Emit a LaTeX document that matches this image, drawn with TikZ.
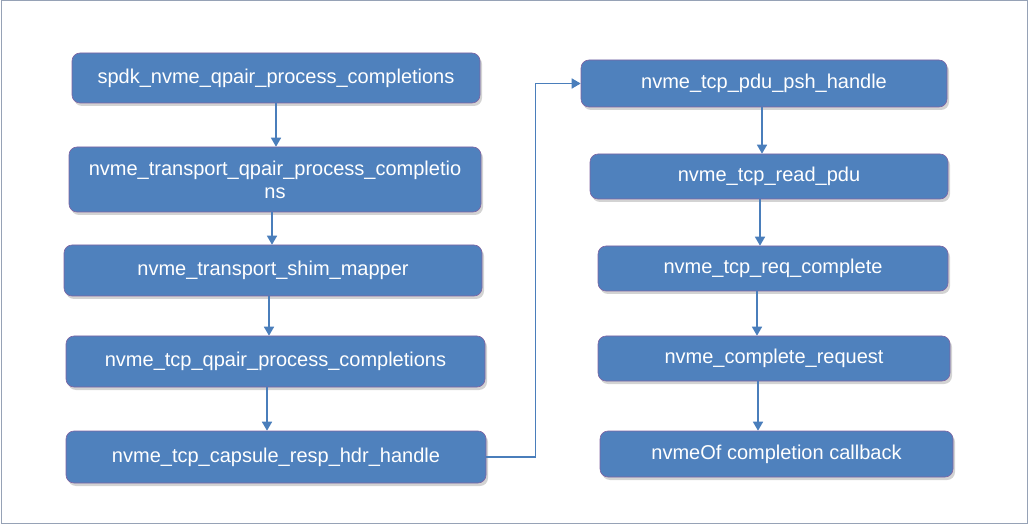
\documentclass[tikz,border=0pt]{standalone}
\usepackage{fontspec}
\setmainfont{Liberation Sans}
\usetikzlibrary{arrows.meta,shadows}
\definecolor{boxfill}{RGB}{79,129,189}
\definecolor{boxline}{RGB}{128,100,162}
\definecolor{arrowcol}{RGB}{74,126,187}
\definecolor{framecol}{RGB}{150,162,182}
\begin{document}
\begin{tikzpicture}[x=1pt,y=-1pt,
  fbox/.style={rectangle, rounded corners=8pt, fill=boxfill, draw=boxline, line width=0.6pt,
    text=white, font=\fontsize{20}{23}\selectfont, align=center, inner sep=0pt,
    drop shadow={shadow xshift=2pt, shadow yshift=-3pt, opacity=0.35}},
  conn/.style={draw=arrowcol, line width=1.6pt, -{Triangle[width=10pt,length=9pt]}}]
\useasboundingbox (0,0) rectangle (1030,526);
\draw[framecol, line width=1pt] (1,1) rectangle (1027,523);

\node[fbox, minimum width=408pt, minimum height=50pt] (n1) at (276,78) {spdk\_nvme\_qpair\_process\_completions};
\node[fbox, minimum width=412pt, minimum height=65pt] (n2) at (275,179.5) {nvme\_transport\_qpair\_process\_completio\\ns};
\node[fbox, minimum width=418pt, minimum height=51pt] (n3) at (273,270.5) {nvme\_transport\_shim\_mapper};
\node[fbox, minimum width=419pt, minimum height=51pt] (n4) at (275.5,361.5) {nvme\_tcp\_qpair\_process\_completions};
\node[fbox, minimum width=420pt, minimum height=52pt] (n5) at (276,457) {nvme\_tcp\_capsule\_resp\_hdr\_handle};

\node[fbox, minimum width=366pt, minimum height=47pt] (n6) at (764,83.5) {nvme\_tcp\_pdu\_psh\_handle};
\node[fbox, minimum width=358pt, minimum height=45pt] (n7) at (769,176.5) {nvme\_tcp\_read\_pdu};
\node[fbox, minimum width=350pt, minimum height=45pt] (n8) at (773,268.5) {nvme\_tcp\_req\_complete};
\node[fbox, minimum width=352pt, minimum height=45pt] (n9) at (774,358.5) {nvme\_complete\_request};
\node[fbox, minimum width=353pt, minimum height=46pt] (n10) at (776.5,454) {nvmeOf completion callback};

\draw[conn] (n1.south) -- (n1.south |- n2.north);
\draw[conn] ([xshift=-3pt]n2.south) -- ([xshift=-3pt]n2.south |- n3.north);
\draw[conn] ([xshift=-4pt]n3.south) -- ([xshift=-4pt]n3.south |- n4.north);
\draw[conn] ([xshift=-8.5pt]n4.south) -- ([xshift=-8.5pt]n4.south |- n5.north);
\draw[conn] (n5.east) -- ++(49,0) |- (n6.west);
\draw[conn] ([xshift=-2pt]n6.south) -- ([xshift=-2pt]n6.south |- n7.north);
\draw[conn] ([xshift=-9pt]n7.south) -- ([xshift=-9pt]n7.south |- n8.north);
\draw[conn] ([xshift=-16pt]n8.south) -- ([xshift=-16pt]n8.south |- n9.north);
\draw[conn] ([xshift=-16pt]n9.south) -- ([xshift=-16pt]n9.south |- n10.north);
\end{tikzpicture}
\end{document}
